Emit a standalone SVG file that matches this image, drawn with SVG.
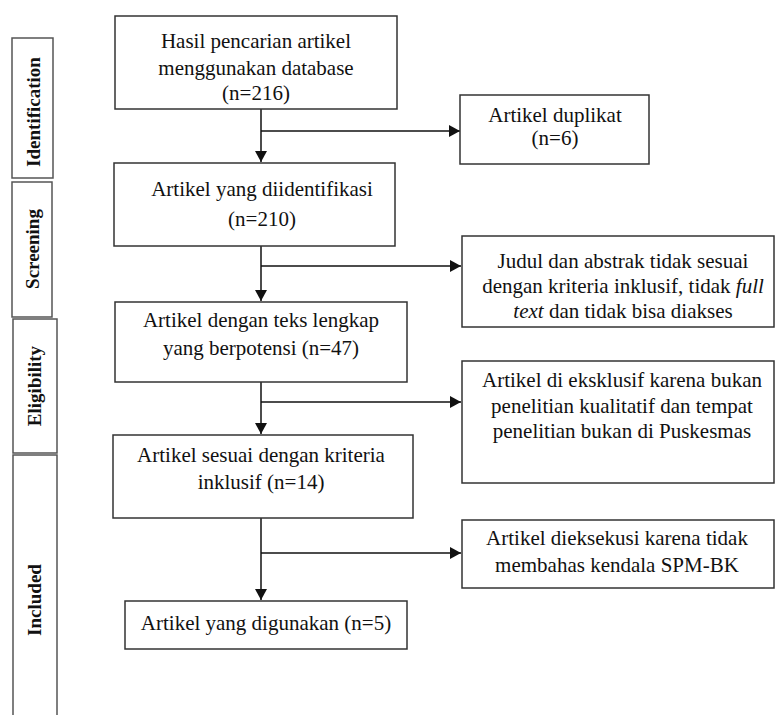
<svg xmlns="http://www.w3.org/2000/svg" width="776" height="715" viewBox="0 0 776 715">
<style>
.box{fill:#fff;stroke:#333;stroke-width:1.5}
.phase{fill:#fff;stroke:#555;stroke-width:1.5}
.t{font-family:"Liberation Serif","Times New Roman",serif;font-size:21px;fill:#111;text-anchor:middle}
.p{font-family:"Liberation Serif","Times New Roman",serif;font-size:19px;font-weight:bold;fill:#111;text-anchor:middle}
.c{fill:none;stroke:#111;stroke-width:1.5}
</style>
<defs>
<marker id="ah" viewBox="0 0 10 12" markerWidth="11" markerHeight="12" refX="10" refY="6" orient="auto" markerUnits="userSpaceOnUse" preserveAspectRatio="none">
<path d="M0,0 L10,6 L0,12 z" fill="#111"/>
</marker>
</defs>
<rect width="776" height="715" fill="#fff"/>
<g id="phase-identification">
<rect class="phase" x="12" y="38" width="41" height="140"/>
<text class="p" transform="translate(40,112) rotate(-90)">Identification</text>
</g>
<g id="phase-screening">
<rect class="phase" x="12" y="182" width="40" height="135"/>
<text class="p" transform="translate(39,249) rotate(-90)">Screening</text>
</g>
<g id="phase-eligibility">
<rect class="phase" x="13" y="319" width="44" height="134"/>
<text class="p" transform="translate(41,386) rotate(-90)">Eligibility</text>
</g>
<g id="phase-included">
<path class="phase" d="M13,716 L13,455 L57,455 L57,716"/>
<text class="p" transform="translate(41,600) rotate(-90)">Included</text>
</g>
<g id="connectors">
<path class="c" d="M261,109 L261,162" marker-end="url(#ah)"/>
<path class="c" d="M261,131 L460,131" marker-end="url(#ah)"/>
<path class="c" d="M261,246 L261,301" marker-end="url(#ah)"/>
<path class="c" d="M261,266 L461,266" marker-end="url(#ah)"/>
<path class="c" d="M261,382 L261,434" marker-end="url(#ah)"/>
<path class="c" d="M261,402 L461,402" marker-end="url(#ah)"/>
<path class="c" d="M261,518 L261,600" marker-end="url(#ah)"/>
<path class="c" d="M261,553 L461,553" marker-end="url(#ah)"/>
</g>
<g id="n1">
<rect class="box" x="115" y="16" width="282" height="93"/>
<text class="t" x="256" y="48">Hasil pencarian artikel</text>
<text class="t" x="256" y="75">menggunakan database</text>
<text class="t" x="256" y="100">(n=216)</text>
</g>
<g id="n2">
<rect class="box" x="114" y="163" width="281" height="83"/>
<text class="t" x="262" y="196">Artikel yang diidentifikasi</text>
<text class="t" x="262" y="226">(n=210)</text>
</g>
<g id="n3">
<rect class="box" x="115" y="302" width="292" height="80"/>
<text class="t" x="261" y="327">Artikel dengan teks lengkap</text>
<text class="t" x="261" y="355">yang berpotensi (n=47)</text>
</g>
<g id="n4">
<rect class="box" x="113" y="435" width="300" height="83"/>
<text class="t" x="261" y="462">Artikel sesuai dengan kriteria</text>
<text class="t" x="261" y="489">inklusif (n=14)</text>
</g>
<g id="n5">
<rect class="box" x="125" y="601" width="282" height="48"/>
<text class="t" x="266" y="630">Artikel yang digunakan (n=5)</text>
</g>
<g id="x1">
<rect class="box" x="460" y="95" width="189" height="69"/>
<text class="t" x="555" y="122">Artikel duplikat</text>
<text class="t" x="555" y="145">(n=6)</text>
</g>
<g id="x2">
<rect class="box" x="462" y="236" width="312" height="91"/>
<text class="t" x="623" y="268">Judul dan abstrak tidak sesuai</text>
<text class="t" x="623" y="293">dengan kriteria inklusif, tidak <tspan font-style="italic">full</tspan></text>
<text class="t" x="623" y="318"><tspan font-style="italic">text</tspan> dan tidak bisa diakses</text>
</g>
<g id="x3">
<rect class="box" x="462" y="361" width="312" height="122"/>
<text class="t" x="622" y="387">Artikel di eksklusif karena bukan</text>
<text class="t" x="622" y="413">penelitian kualitatif dan tempat</text>
<text class="t" x="622" y="438">penelitian bukan di Puskesmas</text>
</g>
<g id="x4">
<rect class="box" x="462" y="520" width="312" height="68"/>
<text class="t" x="617" y="545">Artikel dieksekusi karena tidak</text>
<text class="t" x="617" y="572">membahas kendala SPM-BK</text>
</g>
</svg>
